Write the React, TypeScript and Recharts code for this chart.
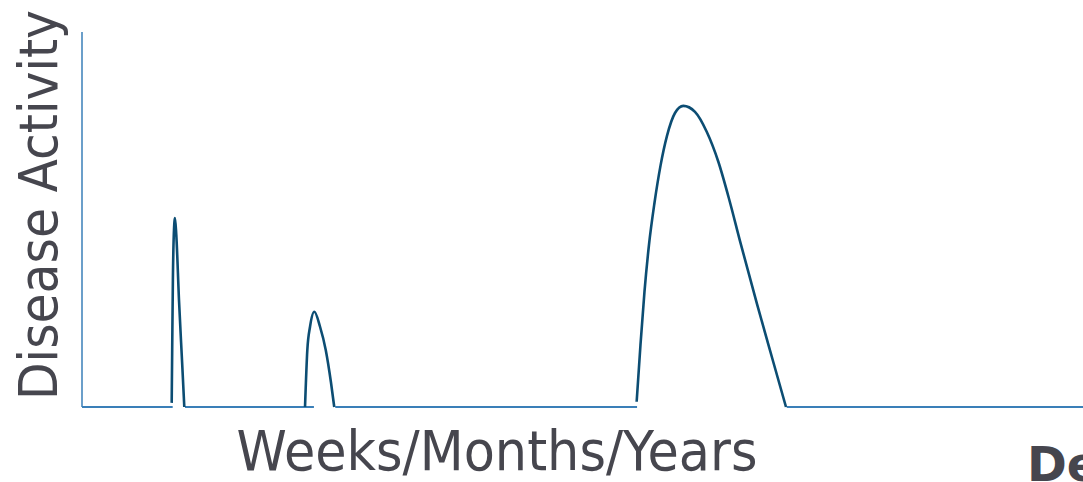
import { LineChart, Line, XAxis, YAxis, Label } from 'recharts';

// time runs 0..100 across the plot, activity 0..100 up the axis
const relapse1 = [
  { t: 8.96, v: 1.1 },
  { t: 9.01, v: 15.2 },
  { t: 9.08, v: 33.9 },
  { t: 9.17, v: 45.9 },
  { t: 9.29, v: 50.4 },
  { t: 9.42, v: 45.9 },
  { t: 9.69, v: 28.5 },
  { t: 10.02, v: 10.9 },
  { t: 10.22, v: 0 },
];

const relapse2 = [
  { t: 22.28, v: 0 },
  { t: 22.51, v: 15.2 },
  { t: 22.78, v: 21.4 },
  { t: 23.21, v: 25.4 },
  { t: 23.78, v: 21.4 },
  { t: 24.35, v: 15.2 },
  { t: 24.88, v: 6.4 },
  { t: 25.2, v: 0 },
];

const relapse3 = [
  { t: 55.41, v: 1.4 },
  { t: 55.79, v: 16.5 },
  { t: 56.19, v: 30.7 },
  { t: 56.64, v: 43.2 },
  { t: 57.19, v: 54.4 },
  { t: 57.79, v: 64.3 },
  { t: 58.44, v: 72.3 },
  { t: 59.24, v: 78.4 },
  { t: 60.07, v: 80.3 },
  { t: 61.24, v: 78.7 },
  { t: 62.41, v: 73.4 },
  { t: 63.57, v: 65.4 },
  { t: 64.67, v: 55.2 },
  { t: 65.73, v: 44.3 },
  { t: 67.43, v: 27.5 },
  { t: 69.06, v: 12.0 },
  { t: 70.33, v: 0 },
];

// flat baseline pieces between the relapses
const baselineSegments = [
  [{ t: 0, v: 0 }, { t: 9.06, v: 0 }],
  [{ t: 10.29, v: 0 }, { t: 23.17, v: 0 }],
  [{ t: 25.3, v: 0 }, { t: 55.45, v: 0 }],
  [{ t: 70.4, v: 0 }, { t: 100, v: 0 }],
];

const yTitle = 'Disease Activity';
const xTitle = 'Weeks/Months/Years';
const cornerText = 'De';

const curveColor = '#0c4d73';
const axisColor = '#3a7fb8';
const textColor = '#46464e';

const Titles = () => (
  <g fontFamily="'DejaVu Sans', sans-serif" fill={textColor}>
    <text
      transform="translate(57, 205) rotate(-90)"
      textAnchor="middle"
      fontSize={54}
      textLength={390}
      lengthAdjust="spacingAndGlyphs"
    >
      {yTitle}
    </text>
    <text
      x={497}
      y={470}
      textAnchor="middle"
      fontSize={56}
      textLength={521}
      lengthAdjust="spacingAndGlyphs"
    >
      {xTitle}
    </text>
    <text x={1027} y={481} fontSize={48} fontWeight="bold">
      {cornerText}
    </text>
  </g>
);

export default function App() {
  return (
    <div style={{ position: 'absolute', left: 0, top: 0 }}>
      <LineChart width={1083} height={482} margin={{ top: 32, right: 0, bottom: 75, left: 81 }}>
        <XAxis type="number" dataKey="t" domain={[0, 100]} hide />
        <YAxis
          type="number"
          dataKey="v"
          domain={[0, 100]}
          width={1}
          tick={false}
          tickLine={false}
          axisLine={{ stroke: axisColor, strokeWidth: 1.5 }}
        >
          <Label content={() => <Titles />} />
        </YAxis>
        {baselineSegments.map((seg, i) => (
          <Line
            key={'b' + i}
            data={seg}
            dataKey="v"
            type="linear"
            stroke={axisColor}
            strokeWidth={1.8}
            dot={false}
            isAnimationActive={false}
          />
        ))}
        {[relapse1, relapse2, relapse3].map((r, i) => (
          <Line
            key={'r' + i}
            data={r}
            dataKey="v"
            type="monotone"
            stroke={curveColor}
            strokeWidth={2.6}
            dot={false}
            isAnimationActive={false}
          />
        ))}
      </LineChart>
    </div>
  );
}
